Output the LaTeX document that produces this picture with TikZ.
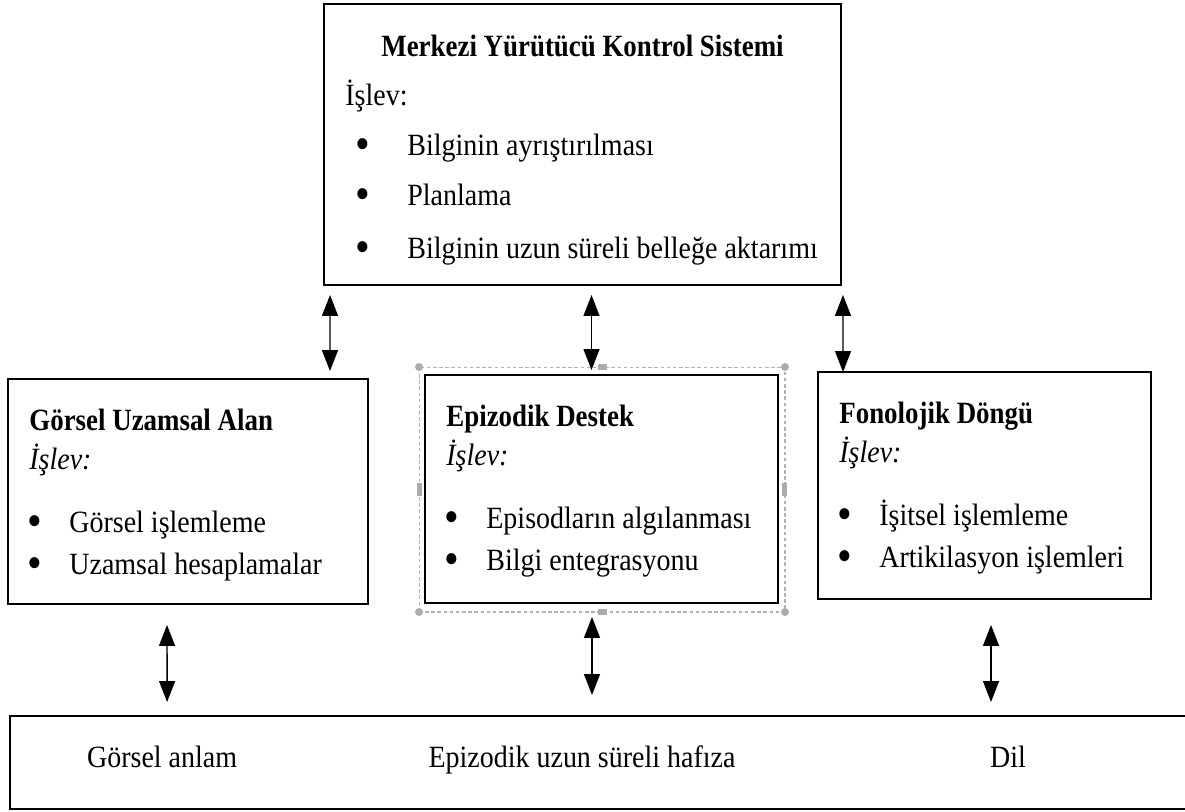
\documentclass[tikz,border=0pt]{standalone}
\usepackage{fontspec}
\setmainfont{Liberation Serif}[UprightFeatures={FakeStretch=0.905}, ItalicFeatures={FakeStretch=0.905}, BoldFeatures={FakeStretch=0.87}]
\usetikzlibrary{arrows.meta}
\newcommand{\boyut}{\fontsize{17.6}{21}\selectfont}
\newcommand{\imi}{\raisebox{-0.13em}{\scalebox{1.5}{\textbullet}}}

\begin{document}
\begin{tikzpicture}[x=0.02cm, y=-0.02cm,
    kutu/.style={draw, line width=1pt, inner sep=0pt, outer sep=0pt},
    yazi/.style={anchor=base west, inner sep=0pt, font=\boyut},
    baslik/.style={yazi, font=\boyut\bfseries},
    islev/.style={yazi, font=\boyut\itshape},
    orta/.style={anchor=base, inner sep=0pt, font=\boyut},
    cift/.style={{Triangle[length=0.42cm, width=0.32cm]}-{Triangle[length=0.42cm, width=0.32cm]}, line width=0.8pt},
    secim/.style={draw=gray!60, dash pattern=on 2pt off 1.5pt, line width=0.6pt, inner sep=0pt, outer sep=0pt},
    tutamak/.style={fill=gray!65, inner sep=0pt}]
    \useasboundingbox (0,0) rectangle (1185,811);

    % kutular
    \node[kutu, minimum width=10.34cm, minimum height=5.62cm] (kontrol) at (582.5,144.5) {};
    \node[kutu, minimum width=7.2cm, minimum height=4.5cm] (gorsel) at (188,491.5) {};
    \node[kutu, minimum width=7.06cm, minimum height=4.56cm] (epizodik) at (601.5,489) {};
    \node[kutu, minimum width=6.66cm, minimum height=4.54cm] (fonolojik) at (984.5,485.5) {};
    \node[kutu, minimum width=23.7cm, minimum height=1.86cm] (uzun) at (602.5,762.5) {};

    % secili kutu cercevesi
    \node[secim, minimum width=7.32cm, minimum height=4.9cm] (cerceve) at (602,489.5) {};
    \foreach \k/\n in {north west/a, north east/b, south west/c, south east/d}
        \node[tutamak, circle, minimum size=0.16cm] (t\n) at (cerceve.\k) {};
    \foreach \k/\n in {north/e, south/f}
        \node[tutamak, minimum width=0.18cm, minimum height=0.12cm] (t\n) at (cerceve.\k) {};
    \foreach \k/\n in {west/g, east/h}
        \node[tutamak, minimum width=0.1cm, minimum height=0.26cm] (t\n) at (cerceve.\k) {};

    % merkezi yurutucu
    \node[orta, font=\boyut\bfseries] (kontrol-baslik) at ([shift={(0,52)}]kontrol.north) {Merkezi Yürütücü Kontrol Sistemi};
    \node[yazi] (kontrol-islev) at ([shift={(21,101)}]kontrol.north west) {İşlev:};
    \node[yazi] (kontrol-m1) at ([shift={(31,151)}]kontrol.north west) {\makebox[1.04cm][l]{\imi}Bilginin ayrıştırılması};
    \node[yazi] (kontrol-m2) at ([shift={(31,201)}]kontrol.north west) {\makebox[1.04cm][l]{\imi}Planlama};
    \node[yazi] (kontrol-m3) at ([shift={(31,254)}]kontrol.north west) {\makebox[1.04cm][l]{\imi}Bilginin uzun süreli belleğe aktarımı};

    % alt bilesenler
    \foreach \k/\b/\a/\c in {gorsel/Görsel Uzamsal Alan/Görsel işlemleme/Uzamsal hesaplamalar,
            epizodik/Epizodik Destek/Episodların algılanması/Bilgi entegrasyonu,
            fonolojik/Fonolojik Döngü/İşitsel işlemleme/Artikilasyon işlemleri} {
        \node[baslik] (\k-baslik) at ([shift={(21,51)}]\k.north west) {\b};
        \node[islev] (\k-islev) at ([shift={(21,90)}]\k.north west) {İşlev:};
        \node[yazi] (\k-m1) at ([shift={(19,153)}]\k.north west) {\makebox[0.84cm][l]{\imi}\a};
        \node[yazi] (\k-m2) at ([shift={(19,195)}]\k.north west) {\makebox[0.84cm][l]{\imi}\c};
    }

    % uzun sureli bellek
    \node[orta] (gorsel-anlam) at ([shift={(152,4.5)}]uzun.west) {Görsel anlam};
    \node[orta] (epizodik-hafiza) at ([shift={(-20.5,4.5)}]uzun.center) {Epizodik uzun süreli hafıza};
    \node[orta] (dil) at ([shift={(405.5,4.5)}]uzun.center) {Dil};

    % oklar
    \draw[cift] ([shift={(6,10)}]kontrol.south west) -- ([shift={(-38,-8)}]gorsel.north east);
    \draw[cift] ([shift={(9,10)}]kontrol.south) -- ([shift={(-10,-5)}]epizodik.north);
    \draw[cift] ([shift={(2,10)}]kontrol.south east) -- ([shift={(25,0)}]fonolojik.north west);
    \draw[cift] ([shift={(-21,21)}]gorsel.south) -- ([shift={(157,-14)}]uzun.north west);
    \draw[cift] ([shift={(-9.5,14)}]epizodik.south) -- ([shift={(-10.5,-21)}]uzun.north);
    \draw[cift] ([shift={(6.5,26)}]fonolojik.south) -- ([shift={(388.5,-14)}]uzun.north);
\end{tikzpicture}
\end{document}
